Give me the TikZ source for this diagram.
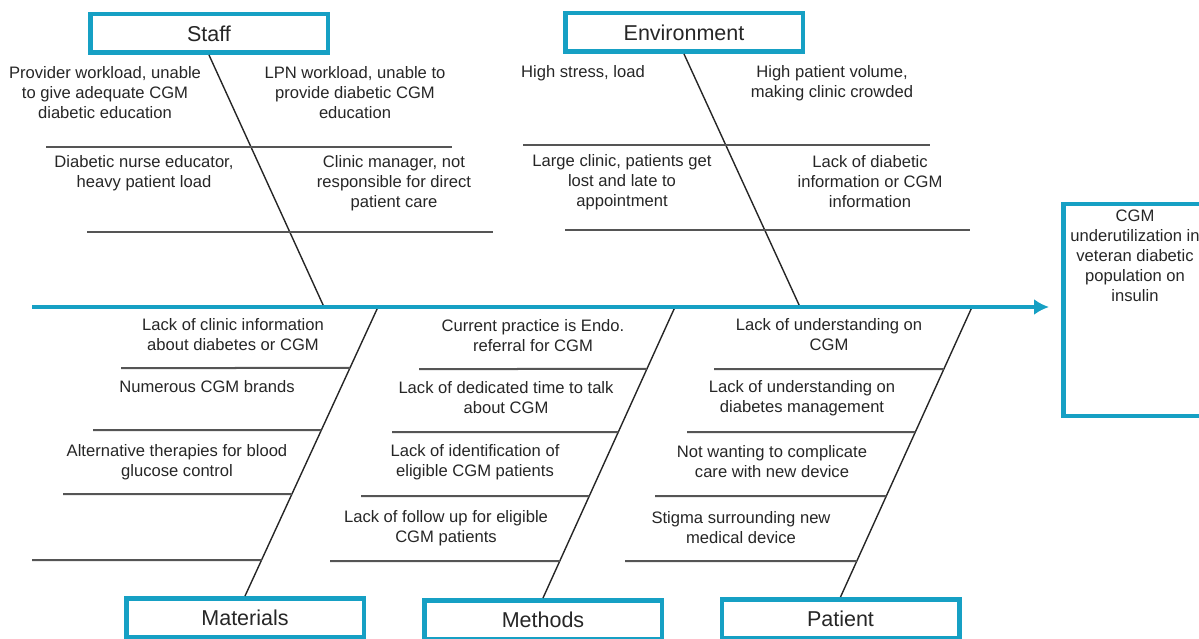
\documentclass[tikz,border=0pt]{standalone}
\usepackage{fontspec}
\setmainfont{Liberation Sans}
\usetikzlibrary{arrows.meta,calc}

\definecolor{fishblue}{RGB}{22,160,196}
\definecolor{inkgray}{RGB}{38,38,38}
\definecolor{ribgray}{RGB}{85,85,85}

\tikzset{
  causebox/.style={draw=fishblue, line width=4.5pt, fill=white,
    minimum width=237.5pt, minimum height=38.5pt, inner sep=0pt,
    font=\fontsize{21.5}{24}\selectfont, text=inkgray},
  effectbox/.style={draw=fishblue, line width=4.5pt,
    minimum width=143.5pt, minimum height=211.5pt, inner sep=0pt},
  causetext/.style={align=center, inner sep=0pt, text=inkgray,
    font=\fontsize{16.6}{20}\selectfont},
  bone/.style={draw=inkgray, line width=1.4pt},
  ribline/.style={draw=ribgray, line width=2pt},
  backbone/.style={draw=fishblue, line width=3.5pt,
    -{Latex[length=15pt,width=16pt]}}
}

\begin{document}
\begin{tikzpicture}[x=1pt,y=-1pt]
\useasboundingbox (0,0) rectangle (1199,639);

% category boxes
\node[causebox] (staff) at (209,33.5) {Staff};
\node[causebox] (env)   at (684,32.5) {Environment};
\node[causebox] (mat)   at (245,617.5) {Materials};
\node[causebox] (meth)  at (543,619.5) {Methods};
\node[causebox] (pat)   at (840.5,618.5) {Patient};

% effect box
\node[effectbox] (cgm) at (1135,310) {};
\node[causetext, anchor=north] (cgmtext) at (1135,210)
  {CGM\\underutilization in\\veteran diabetic\\population on\\insulin};

% backbone
\coordinate (tail) at (32,307);
\coordinate (head) at (1049,307);
\coordinate (staffj) at (324,307);
\coordinate (envj)   at (800,307);
\coordinate (matj)   at (378,307);
\coordinate (methj)  at (675,307);
\coordinate (patj)   at (972,307);

% category bones
\draw[bone] (staff.south) -- (staffj);
\draw[bone] (env.south) -- (envj);
\draw[bone] (mat.north) -- (matj);
\draw[bone] (meth.north) -- (methj);
\draw[bone] (pat.north) -- (patj);

\draw[backbone] (tail) -- (head);

% ribs: staff
\draw[ribline] (46,147) -- (452,147);
\draw[ribline] (87,232) -- (493,232);
% ribs: environment
\draw[ribline] (523,145) -- (930,145);
\draw[ribline] (565,230) -- (970,230);
% ribs: materials
\draw[ribline] (121,368) -- ($(matj)!{(368-307)/(596-307)}!(mat.north)$);
\draw[ribline] (93,430)  -- ($(matj)!{(430-307)/(596-307)}!(mat.north)$);
\draw[ribline] (63,494)  -- ($(matj)!{(494-307)/(596-307)}!(mat.north)$);
\draw[ribline] (32,560)  -- ($(matj)!{(560-307)/(596-307)}!(mat.north)$);
% ribs: methods
\draw[ribline] (419,369) -- ($(methj)!{(369-307)/(598-307)}!(meth.north)$);
\draw[ribline] (392,432) -- ($(methj)!{(432-307)/(598-307)}!(meth.north)$);
\draw[ribline] (361,496) -- ($(methj)!{(496-307)/(598-307)}!(meth.north)$);
\draw[ribline] (330,561) -- ($(methj)!{(561-307)/(598-307)}!(meth.north)$);
% ribs: patient
\draw[ribline] (714,369) -- ($(patj)!{(369-307)/(597-307)}!(pat.north)$);
\draw[ribline] (687,432) -- ($(patj)!{(432-307)/(597-307)}!(pat.north)$);
\draw[ribline] (655,496) -- ($(patj)!{(496-307)/(597-307)}!(pat.north)$);
\draw[ribline] (625,561) -- ($(patj)!{(561-307)/(597-307)}!(pat.north)$);

% staff causes
\node[causetext] (s1) at (105,93) {Provider workload, unable\\to give adequate CGM\\diabetic education};
\node[causetext] (s2) at (355,93) {LPN workload, unable to\\provide diabetic CGM\\education};
\node[causetext] (s3) at (144,173) {Diabetic nurse educator,\\heavy patient load};
\node[causetext] (s4) at (394,183) {Clinic manager, not\\responsible for direct\\patient care};

% environment causes
\node[causetext] (e1) at (583,73) {High stress, load};
\node[causetext] (e2) at (832,83) {High patient volume,\\making clinic crowded};
\node[causetext] (e3) at (622,182) {Large clinic, patients get\\lost and late to\\appointment};
\node[causetext] (e4) at (870,182) {Lack of diabetic\\information or CGM\\information};

% materials causes
\node[causetext] (m1) at (233,335) {Lack of clinic information\\about diabetes or CGM};
\node[causetext] (m2) at (207,387) {Numerous CGM brands};
\node[causetext] (m3) at (177,462) {Alternative therapies for blood\\glucose control};

% methods causes
\node[causetext] (t1) at (533,336) {Current practice is Endo.\\referral for CGM};
\node[causetext] (t2) at (506,398) {Lack of dedicated time to talk\\about CGM};
\node[causetext] (t3) at (475,462) {Lack of identification of\\eligible CGM patients};
\node[causetext] (t4) at (446,528) {Lack of follow up for eligible\\CGM patients};

% patient causes
\node[causetext] (p1) at (829,335) {Lack of understanding on\\CGM};
\node[causetext] (p2) at (802,398) {Lack of understanding on\\diabetes management};
\node[causetext] (p3) at (772,462) {Not wanting to complicate\\care with new device};
\node[causetext] (p4) at (741,528) {Stigma surrounding new\\medical device};
\end{tikzpicture}
\end{document}
